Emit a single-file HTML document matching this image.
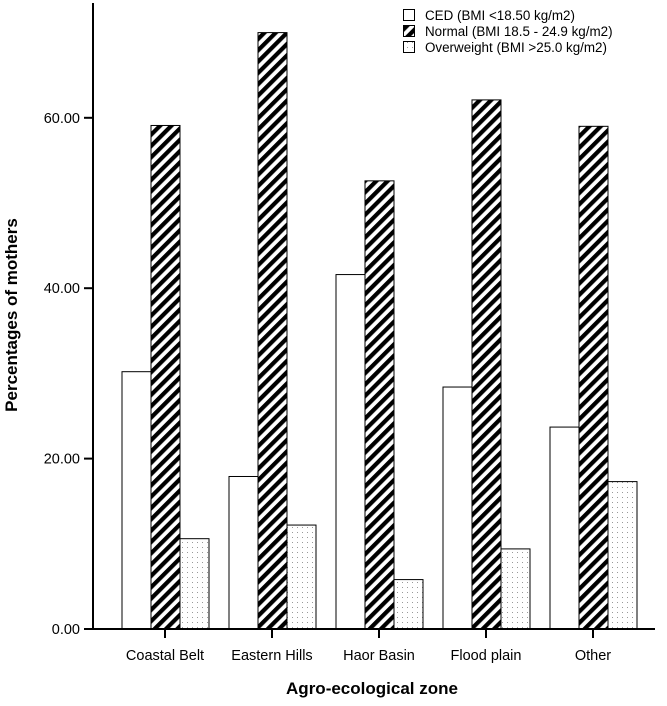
<!DOCTYPE html>
<html><head><meta charset="utf-8"><style>
body{margin:0;background:#fff}
svg text{font-family:"Liberation Sans",Arial,sans-serif}
</style></head><body>
<svg id="chart" width="667" height="701" xmlns="http://www.w3.org/2000/svg">
<defs>
<pattern id="hatch" patternUnits="userSpaceOnUse" width="8" height="8" patternTransform="rotate(45)">
<rect width="8" height="8" fill="#fff"/><rect width="4.2" height="8" fill="#000"/>
</pattern>
<pattern id="dots" patternUnits="userSpaceOnUse" width="5" height="5">
<rect width="5" height="5" fill="#fff"/><rect x="2" y="2" width="1" height="1" fill="#999"/>
</pattern>
</defs>
<g id="bars"></g>
<g id="axes"></g>
<g>
<rect x="403.5" y="9.5" width="11" height="11" fill="#fff" stroke="#000"/>
<text x="425" y="20" font-size="13.4">CED (BMI &lt;18.50 kg/m2)</text>
<rect x="403.5" y="25.5" width="11" height="11" fill="url(#hatch)" stroke="#000"/>
<text x="425" y="36" font-size="13.4">Normal (BMI 18.5 - 24.9 kg/m2)</text>
<rect x="403.5" y="41.5" width="11" height="11" fill="url(#dots)" stroke="#000"/>
<text x="425" y="52" font-size="13.4">Overweight (BMI &gt;25.0 kg/m2)</text>
</g>
<text transform="translate(17,315) rotate(-90)" text-anchor="middle" font-size="17" font-weight="bold">Percentages of mothers</text>
<text x="372" y="694" text-anchor="middle" font-size="17" font-weight="bold">Agro-ecological zone</text>
</svg>
<script>
const categories=["Coastal Belt","Eastern Hills","Haor Basin","Flood plain","Other"];
const cedValues=[30.2,17.9,41.6,28.4,23.7];
const normalValues=[59.1,70.0,52.6,62.1,59.0];
const overweightValues=[10.6,12.2,5.8,9.4,17.3];
const yTicks=[0,20,40,60];
const yTickLabels=["0.00","20.00","40.00","60.00"];

const NS="http://www.w3.org/2000/svg";
const y0=629, pxPerUnit=8.52, xStart=165, groupStep=107, barW=29;
function yScale(v){return y0-v*pxPerUnit;}
function xScale(i){return xStart+i*groupStep;}
function mk(tag,attrs,parent){const e=document.createElementNS(NS,tag);for(const k in attrs)e.setAttribute(k,attrs[k]);parent.appendChild(e);return e;}
const bars=document.getElementById('bars'), axes=document.getElementById('axes');
const series=[[cedValues,"#fff","ced"],[normalValues,"url(#hatch)","normal"],[overweightValues,"url(#dots)","overweight"]];
categories.forEach((c,i)=>{
  series.forEach((s,j)=>{
    const v=s[0][i];
    const x=xScale(i)-1.5*barW+j*barW;
    const r=mk('rect',{x:x+0.5,y:yScale(v),width:barW,height:y0-yScale(v),fill:s[1],stroke:"#000","stroke-width":1},bars);
    
    
  });
  const t=mk('line',{x1:xScale(i),x2:xScale(i),y1:y0,y2:y0+9,stroke:"#000","stroke-width":2},axes);
  
  
  const l=mk('text',{x:xScale(i),y:y0+31,"text-anchor":"middle","font-size":"14.5"},axes);
  l.textContent=c;
  
  
});
const ya=mk('line',{x1:93,x2:93,y1:3,y2:y0+1,stroke:"#000","stroke-width":2},axes);


const xa=mk('line',{x1:92,x2:655,y1:y0,y2:y0,stroke:"#000","stroke-width":2},axes);


yTicks.forEach((v,k)=>{
  const t=mk('line',{x1:84,x2:93,y1:yScale(v),y2:yScale(v),stroke:"#000","stroke-width":2},axes);
  
  
  const l=mk('text',{x:80,y:yScale(v)+5,"text-anchor":"end","font-size":"14.5"},axes);
  l.textContent=yTickLabels[k];
  
  
});
</script>
</body></html>
